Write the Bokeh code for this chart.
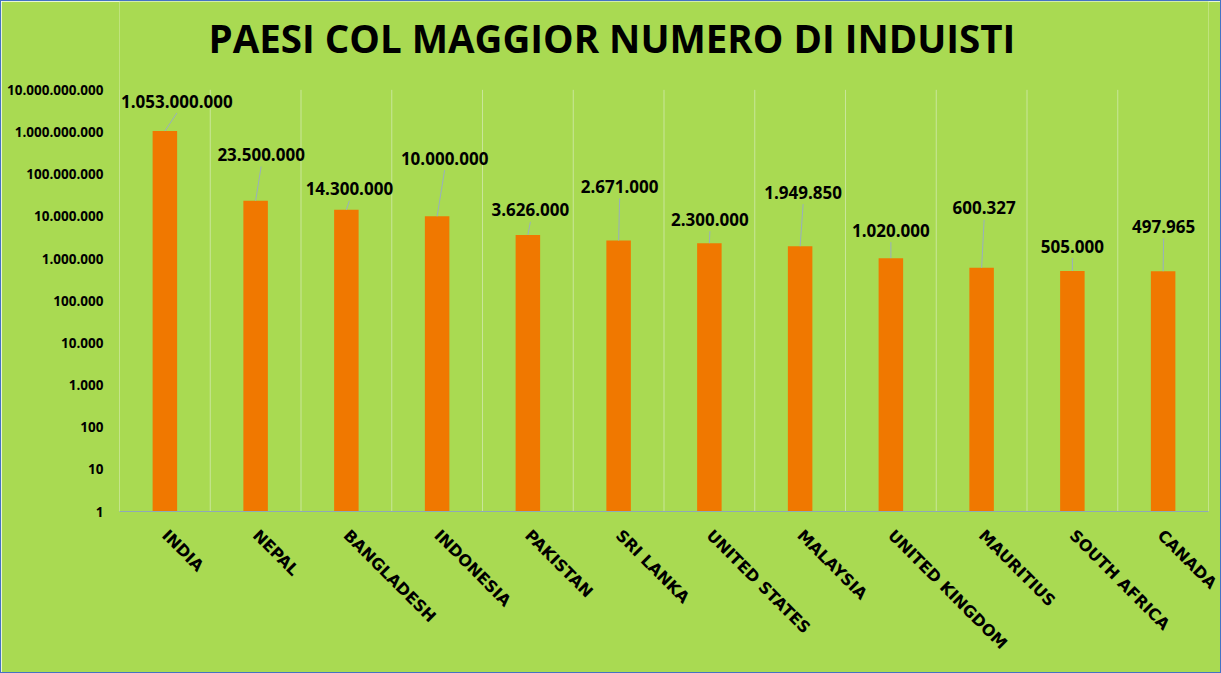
import math
from bokeh.plotting import figure
from bokeh.models import FixedTicker, ColumnDataSource
from bokeh.core.properties import value
from bokeh.embed import file_html
from bokeh.resources import INLINE

# ---- data ----
countries = ["INDIA", "NEPAL", "BANGLADESH", "INDONESIA", "PAKISTAN", "SRI LANKA",
             "UNITED STATES", "MALAYSIA", "UNITED KINGDOM", "MAURITIUS",
             "SOUTH AFRICA", "CANADA"]
hindus = [1053000000, 23500000, 14300000, 10000000, 3626000, 2671000,
          2300000, 1949850, 1020000, 600327, 505000, 497965]
y_ticks = [1, 10, 100, 1000, 10000, 100000, 1000000, 10000000,
           100000000, 1000000000, 10000000000]
y_tick_labels = ["1", "10", "100", "1.000", "10.000", "100.000", "1.000.000",
                 "10.000.000", "100.000.000", "1.000.000.000", "10.000.000.000"]
title_text = "PAESI COL MAGGIOR NUMERO DI INDUISTI"

# ---- label placement (pixels relative to bar top centre) ----
label_dx = [12, 5.5, 3, 7.5, 2.5, 1, 0.5, 3, 0, 2.5, 0, 0.5]
label_dy = [-30, -46, -21, -58, -25, -54, -24, -54, -28, -60, -25, -45]

# ---- style / layout ----
W, H = 1221, 673
INNER_W, INNER_H = W - 2, H - 2
ML, MR, MB = 118, 14, 163
VALUE_TOP = 88            # canvas px where the value area (10^10) starts
TITLE_MID = 36            # canvas px of title vertical centre
TITLE_CX = 609.5          # canvas px of title centre
FRAME_W = INNER_W - ML - MR
FRAME_H = INNER_H - MB
VALUE_H = FRAME_H - VALUE_TOP
BG = "#A9DA52"
BAR = "#F07800"
GRID = "#C9E69A"
AXIS = "#8FA9B8"
LEADER = "#98AEC0"
FONT = "Open Sans"

n = len(countries)
xs = [i + 0.5 for i in range(n)]
decades = math.log10(y_ticks[-1] / y_ticks[0])
px_per_cat = FRAME_W / n
px_per_dec = VALUE_H / decades
y_top = y_ticks[0] * 10 ** (FRAME_H / px_per_dec)

def fmt(v):
    return f"{v:,}".replace(",", ".")

labels = [fmt(v) for v in hindus]
lx = [x + dx / px_per_cat for x, dx in zip(xs, label_dx)]
ly_end = [v * 10 ** (-(dy + 12) / px_per_dec) for v, dy in zip(hindus, label_dy)]

src = ColumnDataSource(dict(x=xs, top=hindus, bottom=[y_ticks[0]] * n, text=labels,
                            dx=label_dx, dy=label_dy, lx=lx, ly=ly_end))

p = figure(width=W, height=H, x_range=(0, n), y_range=(y_ticks[0], y_top),
           y_axis_type="log", output_backend="svg", toolbar_location=None,
           min_border_left=ML, min_border_right=MR, min_border_top=0,
           min_border_bottom=MB, background_fill_color=BG,
           border_fill_color=BG, outline_line_color=None,
           styles={"border": "1px solid #4472C4"})

# category boundary lines (vertical grid) limited to the value area
bounds = list(range(n + 1))
p.segment(x0=bounds, y0=[y_ticks[0]] * len(bounds), x1=bounds,
          y1=[y_ticks[-1]] * len(bounds), line_color=GRID, line_width=1)

p.vbar(x="x", top="top", bottom="bottom", width=0.27, source=src,
       fill_color=BAR, line_color=None)
p.segment(x0="x", y0="top", x1="lx", y1="ly", source=src,
          line_color=LEADER, line_width=1)
p.text(x="x", y="top", text="text", x_offset="dx", y_offset="dy", source=src,
       text_align="center", text_baseline="middle",
       text_font=value(FONT), text_font_style="bold", text_font_size="17px",
       text_color="#000000")

# title
p.text(x=[(TITLE_CX - ML) / px_per_cat],
       y=[y_ticks[0] * 10 ** ((FRAME_H - TITLE_MID) / px_per_dec)],
       text=[title_text], text_align="center", text_baseline="middle",
       text_font=value(FONT), text_font_style="bold", text_font_size="38.5px",
       text_color="#000000")

# grid
p.ygrid.visible = False
p.xgrid.visible = False

# x axis
xa = p.xaxis[0]
xa.ticker = FixedTicker(ticks=xs)
xa.major_label_overrides = {x: c for x, c in zip(xs, countries)}
xa.major_label_orientation = -math.pi / 4
xa.major_tick_line_color = None
xa.minor_tick_line_color = None
xa.axis_line_color = AXIS
xa.major_label_text_font = "DejaVu Sans"
xa.major_label_text_font_style = "bold"
xa.major_label_text_font_size = "16px"
xa.major_label_text_color = "#000000"
xa.major_label_standoff = 15

# y axis
ya = p.yaxis[0]
ya.ticker = FixedTicker(ticks=y_ticks)
ya.major_label_overrides = {t: s for t, s in zip(y_ticks, y_tick_labels)}
ya.major_tick_line_color = None
ya.minor_tick_line_color = None
ya.axis_line_color = None
ya.major_label_text_font = FONT
ya.major_label_text_font_style = "bold"
ya.major_label_text_font_size = "13.5px"
ya.major_label_text_color = "#000000"
ya.major_label_standoff = 10

open("out.html", "w").write(file_html(p, INLINE))
